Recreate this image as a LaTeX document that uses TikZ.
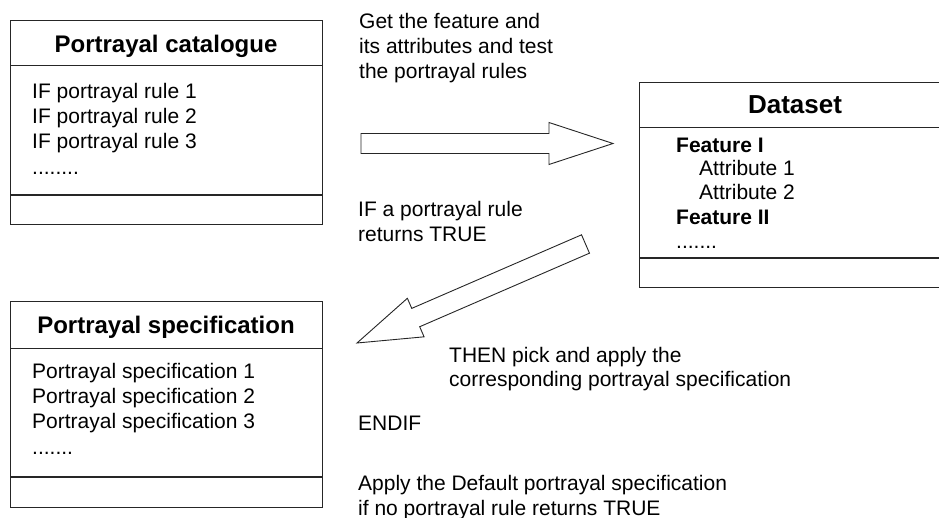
\documentclass[tikz,border=0pt]{standalone}
\usepackage{fontspec}
\setmainfont{Liberation Sans}
\usetikzlibrary{calc}
\begin{document}
\begin{tikzpicture}[x=1pt,y=-1pt,
  boxline/.style={draw=black!85, line width=1pt},
  boxnode/.style={boxline, rectangle, inner sep=0pt, outer sep=0pt, anchor=north west},
  txt/.style={anchor=base west, inner sep=0pt, font=\fontsize{21}{25}\selectfont},
  btxt/.style={anchor=base west, inner sep=0pt, font=\fontsize{21}{25}\selectfont\bfseries},
  ttl/.style={anchor=base, inner sep=0pt, font=\fontsize{24}{28}\selectfont\bfseries},
  blockarrow/.style={draw=black!85, line width=0.9pt, fill=white, line join=miter}]
\useasboundingbox (0,0) rectangle (939,518);
\clip (0,0) rectangle (939,518);

% Portrayal catalogue box
\node[boxnode, minimum width=311.5pt, minimum height=204pt] (cat) at (10.5,21) {};
\draw[boxline] (cat.west |- 0,66) -- (cat.east |- 0,66);
\draw[boxline, line width=1.3pt] (cat.west |- 0,195) -- (cat.east |- 0,195);
\node[ttl] (catT) at (166,53) {Portrayal catalogue};
\node[txt] (cat1) at (32,99) {IF portrayal rule 1};
\node[txt] (cat2) at (32,124) {IF portrayal rule 2};
\node[txt] (cat3) at (32,149) {IF portrayal rule 3};
\node[txt] (cat4) at (32,175) {........};

% Dataset box
\node[boxnode, minimum width=313pt, minimum height=205pt] (ds) at (639,83) {};
\draw[boxline] (ds.west |- 0,128) -- (ds.east |- 0,128);
\draw[boxline, line width=1.3pt] (ds.west |- 0,258) -- (ds.east |- 0,258);
\node[ttl, font=\fontsize{26}{30}\selectfont\bfseries] (dsT) at (795,114) {Dataset};
\node[btxt] (ds1) at (676,153) {Feature I};
\node[txt] (ds2) at (699,176) {Attribute 1};
\node[txt] (ds3) at (699,200) {Attribute 2};
\node[btxt] (ds4) at (676,225) {Feature II};
\node[txt] (ds5) at (676,249) {.......};

% Portrayal specification box
\node[boxnode, minimum width=311.5pt, minimum height=205pt] (spec) at (10.5,302) {};
\draw[boxline] (spec.west |- 0,348) -- (spec.east |- 0,348);
\draw[boxline, line width=1.3pt] (spec.west |- 0,477) -- (spec.east |- 0,477);
\node[ttl] (specT) at (166,334) {Portrayal specification};
\node[txt] (spec1) at (32,378) {Portrayal specification 1};
\node[txt] (spec2) at (32,403) {Portrayal specification 2};
\node[txt] (spec3) at (32,428) {Portrayal specification 3};
\node[txt] (spec4) at (32,454) {.......};

% Free labels
\node[txt] (g1) at (359,29) {Get the feature and};
\node[txt] (g2) at (359,54) {its attributes and test};
\node[txt] (g3) at (359,79) {the portrayal rules};
\node[txt] (r1) at (358,217) {IF a portrayal rule};
\node[txt] (r2) at (358,242) {returns TRUE};
\node[txt] (t1) at (449,362) {THEN pick and apply the};
\node[txt] (t2) at (449,386) {corresponding portrayal specification};
\node[txt] (e1) at (358,430) {ENDIF};
\node[txt] (d1) at (358,490) {Apply the Default portrayal specification};
\node[txt] (d2) at (358,515) {if no portrayal rule returns TRUE};

% Block arrows
\coordinate (aT) at (361,143.5);
\coordinate (aP) at (613,143.5);
\coordinate (bT) at (585.5,244);
\coordinate (bP) at (357,343);
\foreach \T/\P in {aT/aP, bT/bP}{
  \coordinate (H) at ($(\P)!64pt!(\T)$);
  \draw[blockarrow]
    ($(\T)!10pt!90:(\P)$) -- ($(H)!10pt!90:(\P)$) -- ($(H)!21pt!90:(\P)$) --
    (\P) -- ($(H)!21pt!-90:(\P)$) -- ($(H)!10pt!-90:(\P)$) --
    ($(\T)!10pt!-90:(\P)$) -- cycle;
}
\end{tikzpicture}
\end{document}
